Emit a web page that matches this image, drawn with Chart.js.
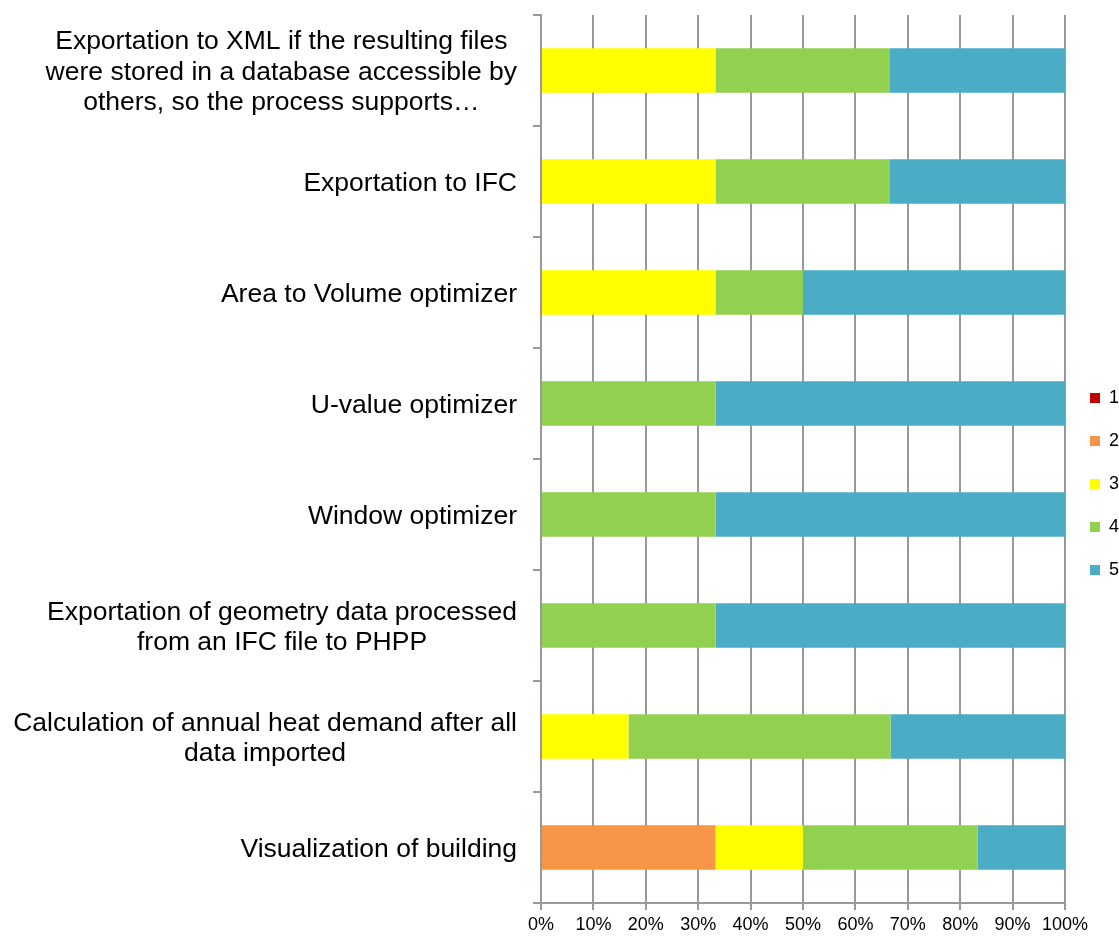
<!DOCTYPE html>
<html>
<head>
<meta charset="utf-8">
<script src="https://cdn.jsdelivr.net/npm/chart.js@4.4.1/dist/chart.umd.min.js"></script>
<style>
  body { margin: 0; background: #fff; }
</style>
</head>
<body>
<canvas id="grafico" width="1119" height="937"></canvas>
<script>
// categorias (cada linha do rótulo em um item)
const categorias = [
    ["Exportation to XML if the resulting files", "were stored in a database accessible by", "others, so the process supports…"],
    ["Exportation to IFC"],
    ["Area to Volume optimizer"],
    ["U-value optimizer"],
    ["Window optimizer"],
    ["Exportation of geometry data processed", "from an IFC file to PHPP"],
    ["Calculation of annual heat demand after all", "data imported"],
    ["Visualization of building"]
];

// percentuais de cada nota (1 a 5)
const nota1 = [0, 0, 0, 0, 0, 0, 0, 0];
const nota2 = [0, 0, 0, 0, 0, 0, 0, 33.3];
const nota3 = [33.3, 33.3, 33.3, 0, 0, 0, 16.7, 16.7];
const nota4 = [33.3, 33.3, 16.7, 33.3, 33.3, 33.3, 50, 33.3];
const nota5 = [33.4, 33.4, 50, 66.7, 66.7, 66.7, 33.3, 16.7];

const notas = ["1", "2", "3", "4", "5"];
const cores = ["#C00000", "#F79646", "#FFFF00", "#92D050", "#4BACC6"];
const valores = [nota1, nota2, nota3, nota4, nota5];

const cinza = "#999999";
const fonte = '"Liberation Sans", Arial, sans-serif';

Chart.defaults.font.family = fonte;
Chart.defaults.color = "#000";

// rótulos do eixo y com linhas centralizadas
const rotulos = {
    id: "rotulos",
    afterDraw(chart) {
        const ctx = chart.ctx;
        const eixo = chart.scales.y;
        ctx.save();
        ctx.font = "26.5px " + fonte;
        ctx.fillStyle = "#000";
        ctx.textAlign = "center";
        ctx.textBaseline = "middle";
        chart.data.labels.forEach((linhas, i) => {
            let largura = Math.max(...linhas.map(l => ctx.measureText(l).width));
            let cx = eixo.right - 24 - largura / 2;
            let cy = eixo.getPixelForValue(i) + 2;
            linhas.forEach((l, k) => {
                ctx.fillText(l, cx, cy + (k - (linhas.length - 1) / 2) * 30.5);
            });
        });
        ctx.restore();
    }
};

new Chart(document.getElementById("grafico"), {
    type: "bar",
    data: {
        labels: categorias,
        datasets: notas.map((n, i) => ({
            label: n,
            data: valores[i],
            backgroundColor: cores[i],
            borderWidth: 0,
            barPercentage: 0.4,
            categoryPercentage: 1
        }))
    },
    options: {
        indexAxis: "y",
        responsive: false,
        animation: false,
        layout: { padding: { top: 15, left: 0, right: -10, bottom: 0 } },
        scales: {
            x: {
                stacked: true,
                min: 0,
                max: 100,
                ticks: {
                    stepSize: 10,
                    padding: 4,
                    maxRotation: 0,
                    minRotation: 0,
                    autoSkip: false,
                    font: { size: 18 },
                    callback: v => v + "%"
                },
                grid: { color: cinza, lineWidth: 2, tickLength: 7 },
                border: { color: cinza, width: 2 },
                afterFit: s => { s.height = 34; }
            },
            y: {
                stacked: true,
                ticks: { display: false },
                grid: { offset: true, drawOnChartArea: false, color: cinza, lineWidth: 2, tickLength: 8 },
                border: { color: cinza, width: 2 },
                afterFit: s => { s.width = 541; }
            }
        },
        plugins: {
            legend: {
                position: "right",
                title: { display: true, text: "", font: { size: 10, lineHeight: 1 }, padding: 3 },
                labels: {
                    boxWidth: 10,
                    boxHeight: 10,
                    padding: 25,
                    font: { size: 18 }
                }
            },
            tooltip: { enabled: false }
        }
    },
    plugins: [rotulos]
});
</script>
</body>
</html>
